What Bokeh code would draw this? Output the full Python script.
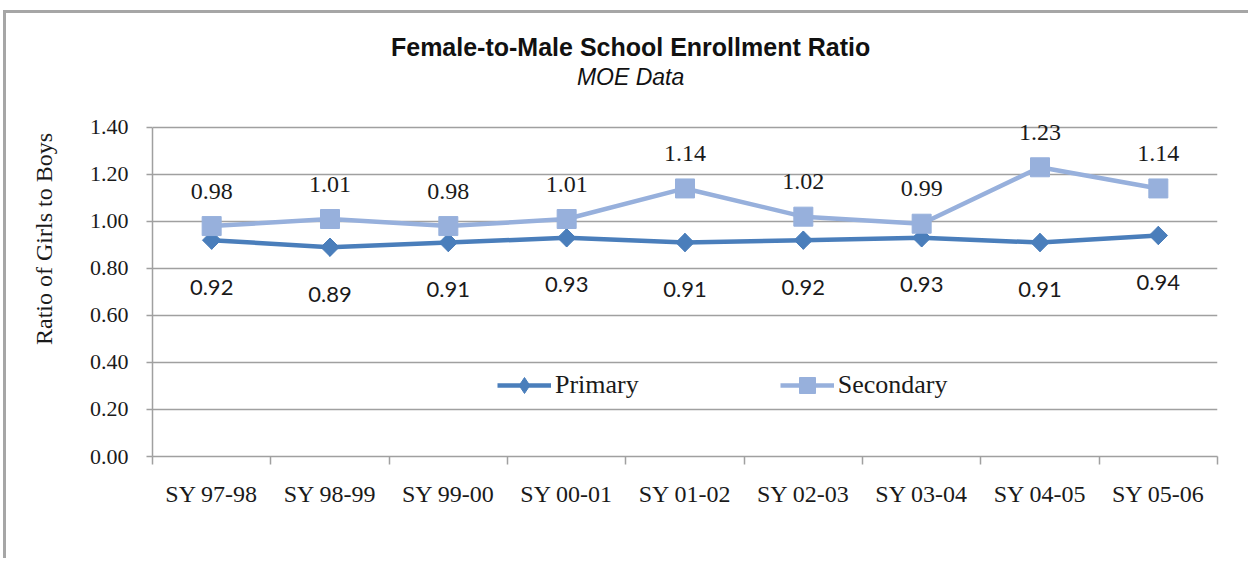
import math
from bokeh.plotting import figure
from bokeh.models import (ColumnDataSource, LabelSet, Label, Legend, LegendItem,
                          FixedTicker, Range1d, NumeralTickFormatter)
from bokeh.embed import file_html
from bokeh.resources import INLINE
from bokeh.core.properties import value

# ---- data ----
categories = ["SY 97-98", "SY 98-99", "SY 99-00", "SY 00-01", "SY 01-02",
              "SY 02-03", "SY 03-04", "SY 04-05", "SY 05-06"]
primary = [0.92, 0.89, 0.91, 0.93, 0.91, 0.92, 0.93, 0.91, 0.94]
secondary = [0.98, 1.01, 0.98, 1.01, 1.14, 1.02, 0.99, 1.23, 1.14]
y_ticks = [0.0, 0.2, 0.4, 0.6, 0.8, 1.0, 1.2, 1.4]

title_text = "Female-to-Male School Enrollment Ratio"
subtitle_text = "MOE Data"
y_label = "Ratio of Girls to Boys"

# ---- style ----
C_PRI = "#4a7ebb"
C_SEC = "#97b0dc"
GRID = "#a0a0a0"
SERIF = "Liberation Serif"
TXT = "#1a1a1a"

n = len(categories)
xs = [i + 0.5 for i in range(n)]
src = ColumnDataSource(dict(
    x=xs, p=primary, s=secondary,
    pt=[f"{v:.2f}" for v in primary],
    st=[f"{v:.2f}" for v in secondary],
))

# y range extends above the last tick to leave room for the titles
p = figure(width=1245, height=548, output_backend="svg", toolbar_location=None,
           x_range=Range1d(0, n), y_range=Range1d(y_ticks[0], 1.85),
           min_border_left=146, min_border_top=8, min_border_right=34,
           min_border_bottom=105)
p.styles = {"position": "relative", "left": "3px", "top": "10px",
            "border-left": "3px solid #a6a6a6", "border-top": "3px solid #a6a6a6"}
p.outline_line_color = None
p.background_fill_color = "white"
p.border_fill_color = "white"

# axes
xa = p.xaxis[0]
xa.ticker = FixedTicker(ticks=xs, minor_ticks=list(range(n + 1)))
xa.major_label_overrides = {x: c for x, c in zip(xs, categories)}
xa.major_tick_out = 0
xa.major_tick_in = 0
xa.minor_tick_out = 8
xa.minor_tick_in = 0
xa.minor_tick_line_color = GRID
xa.minor_tick_line_width = 1.5
xa.axis_line_color = GRID
xa.axis_line_width = 1.5
xa.major_label_text_font = SERIF
xa.major_label_text_font_size = "24px"
xa.major_label_text_color = TXT
xa.major_label_standoff = 16

ya = p.yaxis[0]
ya.ticker = FixedTicker(ticks=y_ticks)
ya.bounds = (y_ticks[0], y_ticks[-1])
ya.formatter = NumeralTickFormatter(format="0.00")
ya.major_tick_out = 6
ya.major_tick_in = 0
ya.major_tick_line_color = GRID
ya.major_tick_line_width = 1.5
ya.axis_line_color = GRID
ya.axis_line_width = 1.5
ya.major_label_text_font = SERIF
ya.major_label_text_font_size = "22px"
ya.major_label_text_color = TXT
ya.major_label_standoff = 18
ya.axis_label = y_label
ya.axis_label_text_font = SERIF
ya.axis_label_text_font_size = "24px"
ya.axis_label_text_font_style = "normal"
ya.axis_label_text_color = TXT
ya.axis_label_standoff = 30

p.xgrid.visible = False
p.ygrid.ticker = FixedTicker(ticks=y_ticks)
p.ygrid.grid_line_color = GRID
p.ygrid.grid_line_width = 1.5

# series
l1 = p.line("x", "p", source=src, line_color=C_PRI, line_width=4.5)
# diamond marker (used for the legend swatch), covered by the rotated square
d1 = p.scatter("x", "p", source=src, marker="diamond", size=18,
               fill_color=C_PRI, line_color=C_PRI)
m1 = p.scatter("x", "p", source=src, marker="square", angle=math.pi / 4,
               size=13, fill_color=C_PRI, line_color=C_PRI)
l2 = p.line("x", "s", source=src, line_color=C_SEC, line_width=4.5)
m2 = p.scatter("x", "s", source=src, marker="square", size=19,
               fill_color=C_SEC, line_color=C_SEC)

# data labels
p.add_layout(LabelSet(x="x", y="p", text="pt", source=src, y_offset=-47,
                      text_align="center", text_baseline="middle",
                      text_font=value("Lato"), text_font_size="22px",
                      text_color=TXT))
p.add_layout(LabelSet(x="x", y="s", text="st", source=src, y_offset=35,
                      text_align="center", text_baseline="middle",
                      text_font=value(SERIF), text_font_size="24px",
                      text_color=TXT))

# legend
legend = Legend(items=[LegendItem(label="Primary", renderers=[l1, d1]),
                       LegendItem(label="Secondary", renderers=[l2, m2])],
                orientation="horizontal", location=(345, 51),
                glyph_width=54, glyph_height=40, label_standoff=4, spacing=141,
                padding=0, margin=0, border_line_color=None,
                background_fill_alpha=0,
                label_text_font=SERIF, label_text_font_size="26px",
                label_text_color=TXT)
p.add_layout(legend, "center")

# titles
p.add_layout(Label(x=4.04, y=1.74, text=title_text, text_align="center",
                   text_baseline="middle", text_font="Liberation Sans",
                   text_font_style="bold", text_font_size="25px",
                   text_color="#111111"))
p.add_layout(Label(x=4.04, y=1.613, text=subtitle_text, text_align="center",
                   text_baseline="middle", text_font="Liberation Sans",
                   text_font_style="italic", text_font_size="23px",
                   text_color="#111111"))

open("out.html", "w").write(file_html(p, INLINE))
